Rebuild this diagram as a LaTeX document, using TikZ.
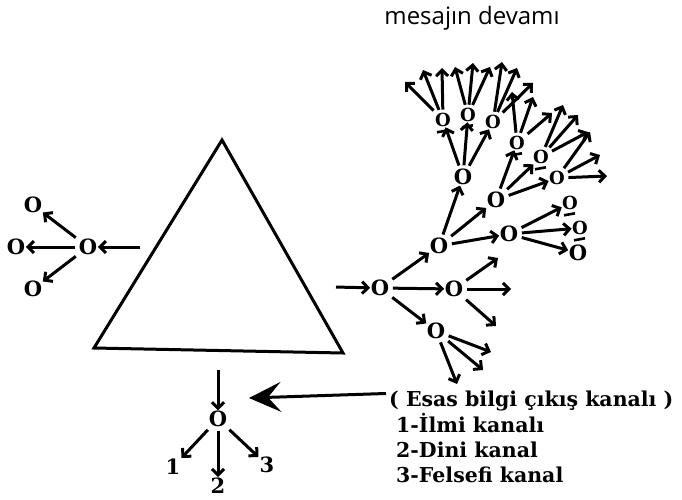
\documentclass[tikz,border=0pt]{standalone}
\usepackage{fontspec}
\setmainfont{DejaVu Serif}
\newfontfamily\titlefont{Open Sans}
\usetikzlibrary{arrows.meta,calc}
\tikzset{
  ar/.style={line width=3pt, shorten <=3pt, -{Straight Barb[length=6pt,width=12pt]}},
  bigar/.style={line width=3pt, -{Stealth[length=32pt,width=30pt,inset=13pt]}},
  onode/.style={font=\bfseries\fontsize{21}{21}\selectfont, inner sep=0.5pt},
  head/.style={font=\bfseries\fontsize{18}{18}\selectfont, inner sep=0.3pt},
  num/.style={font=\bfseries\fontsize{21}{21}\selectfont, inner sep=1pt},
  lbl/.style={font=\bfseries\fontsize{20.5}{20.5}\selectfont, anchor=base west, inner sep=0pt},
  arms/.style={line width=2.6pt},
  tri/.style={line width=3pt, line join=miter}
}
\begin{document}
\begin{tikzpicture}[x=1pt,y=-1pt]
\useasboundingbox (0,0) rectangle (682,500);
% title
\node[font=\titlefont\fontsize{24}{24}\selectfont] (title) at (472,18) {mesajın devamı};
% triangle
\draw[tri] (222,140) -- (343,353) -- (94,348) -- cycle;
% left cluster
\node[onode] (L0) at (88,247) {O};
\node[onode] (L1) at (16,247) {O};
\node[onode] (L2) at (33,205) {O};
\node[onode] (L3) at (33,289) {O};
\coordinate (Lin) at (143,247);
\draw[ar] (Lin) -- (L0);
\draw[ar] (L0) -- (L1);
\draw[ar] (L0) -- (L2);
\draw[ar] (L0) -- (L3);
% right cluster
\coordinate (Rin) at (333,287);
\node[onode] (R1) at (380,288) {O};
\node[onode] (R2) at (454,289) {O};
\node[onode] (R3) at (436,331) {O};
\node[onode] (R4) at (439,246) {O};
\node[onode] (R5) at (463,177) {O};
\node[onode] (R6) at (496,200) {O};
\node[onode] (R7) at (509,234) {O};
\node[head] (R8) at (557,178) {O};
\node[head] (R9) at (493,122) {O};
\node[head] (S1) at (443,120) {O};
\node[head] (S2) at (468,115) {O};
\node[head] (S3) at (517,143) {O};
\node[head] (S4) at (541,157) {O};
\node[head] (S5) at (570,203) {O};
\node[head] (S6) at (580,228) {O};
\node[onode] (R10) at (578,253) {O};
\draw[ar] (Rin) -- (R1);
\draw[ar] (R1) -- (R2);
\draw[ar] (R1) -- (R3);
\draw[ar] (R1) -- (R4);
% R2 children
\coordinate (a1) at (511,289);
\coordinate (a2) at (496,326);
\coordinate (a3) at (498,258);
\draw[ar] (R2) -- (a1);
\draw[ar] (R2) -- (a2);
\draw[ar] (R2) -- (a3);
% R3 children
\coordinate (b1) at (491,352);
\coordinate (b2) at (483,370);
\coordinate (b3) at (457,384);
\draw[ar] (R3) -- (b1);
\draw[ar] (R3) -- (b2);
\draw[ar] (R3) -- (b3);
% R4 children
\draw[ar] (R4) -- (R5);
\draw[ar] (R4) -- (R6);
\draw[ar] (R4) -- (R7);
% R7 children
\draw[ar] (R7) -- (S5);
\draw[ar] (R7) -- (S6);
\draw[ar] (R7) -- (R10);
% R6 children
\draw[ar] (R6) -- (S3);
\draw[ar] (R6) -- (S4);
\draw[ar] (R6) -- (R8);
% R5 children
\draw[ar] (R5) -- (S1);
\draw[ar] (R5) -- (S2);
\draw[ar] (R5) -- (R9);
% arms of the figures
\foreach \s in {S1,S2,S3,S4,S5,S6}
  \draw[arms] ($(\s.south)+(-6,5)$) -- ++(11,-2);
% fans
\foreach \s/\ta/\tb/\tc in {S1/{405,82}/{423,70}/{442,68},
                            S2/{455,67}/{473,63}/{490,67},
                            R9/{502,62}/{517,68}/{533,83},
                            S3/{512,92}/{533,97}/{552,113},
                            S4/{563,105}/{578,115}/{588,132},
                            R8/{590,132}/{600,155}/{607,176}}{
  \coordinate (\s-f1) at (\ta);
  \coordinate (\s-f2) at (\tb);
  \coordinate (\s-f3) at (\tc);
  \draw[ar] (\s) -- (\s-f1);
  \draw[ar] (\s) -- (\s-f2);
  \draw[ar] (\s) -- (\s-f3);
}
% bottom cluster
\coordinate (Bin) at (218,367);
\node[onode] (B0) at (218,419) {O};
\node[num] (B1) at (173,467) {1};
\node[num] (B2) at (218,486) {2};
\node[num] (B3) at (267,465) {3};
\draw[ar] (Bin) -- (B0);
\draw[ar] (B0) -- (B1);
\draw[ar] (B0) -- (B2);
\draw[ar] (B0) -- (B3);
% legend
\node[lbl] (T1) at (389,406) {( Esas bilgi çıkış kanalı )};
\node[lbl] (T2) at (396,432) {1-İlmi kanalı};
\node[lbl] (T3) at (396,457) {2-Dini kanal};
\node[lbl] (T4) at (396,482) {3-Felsefi kanal};
\coordinate (Bend) at (249,398);
\draw[bigar] ($(T1.west)+(-3,-7)$) -- (Bend);
\end{tikzpicture}
\end{document}
